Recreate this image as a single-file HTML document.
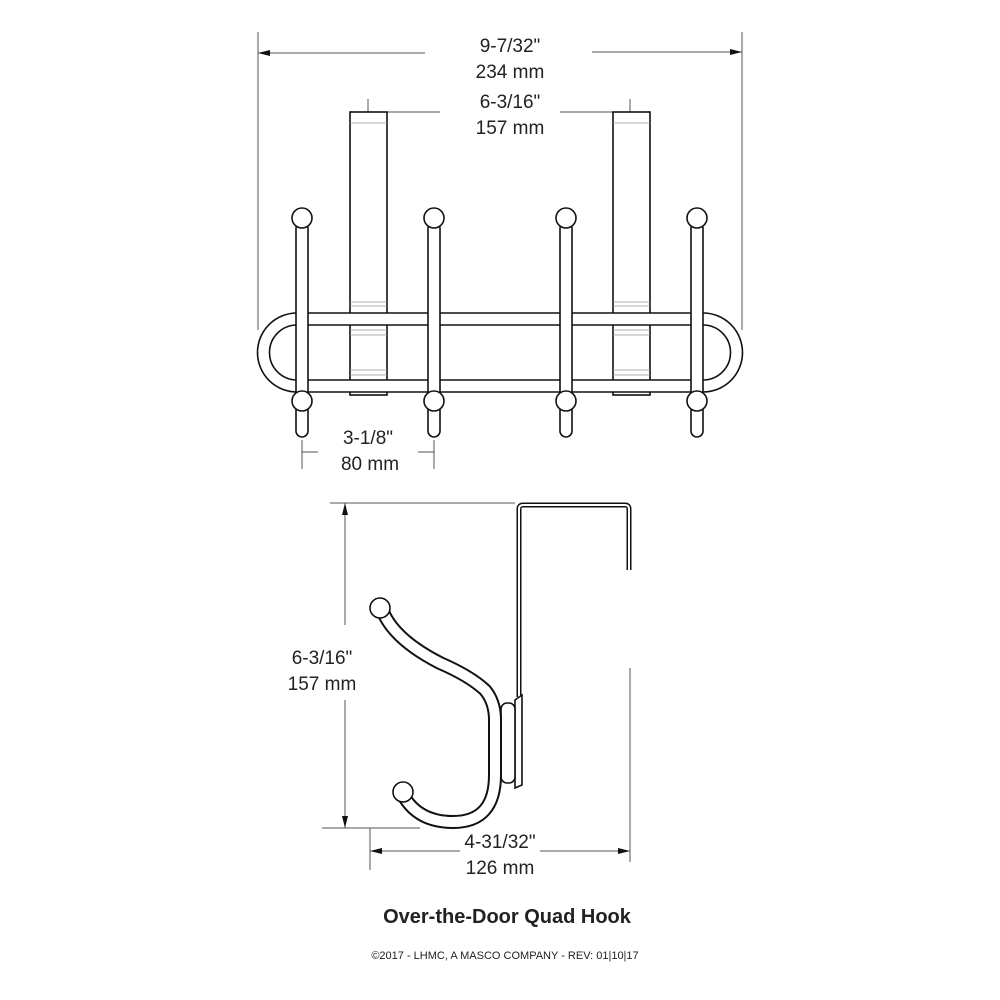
<!DOCTYPE html>
<html><head><style>
html,body{margin:0;padding:0;background:#fff;}
svg{display:block;}
text{font-family:"Liberation Sans",Arial,sans-serif;fill:#222;}
</style></head><body>
<svg width="1000" height="1000" viewBox="0 0 1000 1000" xmlns="http://www.w3.org/2000/svg">
<defs>
<marker id="a" viewBox="0 0 12 6" refX="12" refY="3" markerWidth="14" markerHeight="6" markerUnits="userSpaceOnUse" orient="auto-start-reverse"><path d="M0,0 L12,3 L0,6 z" fill="#111"/></marker>
</defs>
<g stroke="#555" stroke-width="1" fill="none">
<line x1="258" y1="32" x2="258" y2="330"/>
<line x1="742" y1="32" x2="742" y2="330"/>
<line x1="258" y1="53" x2="425" y2="53" marker-start="url(#a)"/>
<line x1="592" y1="52" x2="742" y2="52" marker-end="url(#a)"/>
<line x1="368" y1="99" x2="368" y2="125"/>
<line x1="630" y1="99" x2="630" y2="125"/>
<line x1="368" y1="112" x2="440" y2="112"/>
<line x1="560" y1="112" x2="630" y2="112"/>
<line x1="302" y1="440" x2="302" y2="469"/>
<line x1="434" y1="440" x2="434" y2="469"/>
<line x1="302" y1="452" x2="318" y2="452"/>
<line x1="418" y1="452" x2="434" y2="452"/>
<line x1="330" y1="503" x2="515" y2="503"/>
<line x1="322" y1="828" x2="420" y2="828"/>
<line x1="345" y1="503" x2="345" y2="625" marker-start="url(#a)"/>
<line x1="345" y1="700" x2="345" y2="828" marker-end="url(#a)"/>
<line x1="370" y1="828" x2="370" y2="870"/>
<line x1="630" y1="668" x2="630" y2="862"/>
<line x1="370" y1="851" x2="460" y2="851" marker-start="url(#a)"/>
<line x1="540" y1="851" x2="630" y2="851" marker-end="url(#a)"/>
</g>
<g stroke="#111" stroke-width="1.6" fill="#fff">
<rect x="350" y="112" width="37" height="283"/>
<rect x="613" y="112" width="37" height="283"/>
<g stroke="#999" stroke-width="0.8">
<line x1="350" y1="123" x2="387" y2="123"/><line x1="613" y1="123" x2="650" y2="123"/>
<line x1="350" y1="302" x2="387" y2="302"/><line x1="350" y1="306" x2="387" y2="306"/>
<line x1="613" y1="302" x2="650" y2="302"/><line x1="613" y1="306" x2="650" y2="306"/>
<line x1="350" y1="330" x2="387" y2="330"/><line x1="350" y1="335" x2="387" y2="335"/>
<line x1="613" y1="330" x2="650" y2="330"/><line x1="613" y1="335" x2="650" y2="335"/>
<line x1="350" y1="370" x2="387" y2="370"/><line x1="350" y1="375" x2="387" y2="375"/>
<line x1="613" y1="370" x2="650" y2="370"/><line x1="613" y1="375" x2="650" y2="375"/>
</g>
<path fill-rule="evenodd" fill="#fff" d="M297,313 L703,313 A39.5,39.5 0 0 1 703,392 L297,392 A39.5,39.5 0 0 1 297,313 Z M297,325 L703,325 A27.5,27.5 0 0 1 703,380 L297,380 A27.5,27.5 0 0 1 297,325 Z"/>
<g>
<rect x="296" y="222" width="12" height="215" rx="6"/>
<rect x="428" y="222" width="12" height="215" rx="6"/>
<rect x="560" y="222" width="12" height="215" rx="6"/>
<rect x="691" y="222" width="12" height="215" rx="6"/>
<circle cx="302" cy="218" r="10"/><circle cx="434" cy="218" r="10"/><circle cx="566" cy="218" r="10"/><circle cx="697" cy="218" r="10"/>
<circle cx="302" cy="401" r="10"/><circle cx="434" cy="401" r="10"/><circle cx="566" cy="401" r="10"/><circle cx="697" cy="401" r="10"/>
</g>
<path d="M519,697 L519,509 Q519,505 523,505 L625,505 Q629,505 629,509 L629,570" fill="none" stroke-width="5" stroke="#111"/>
<path d="M519,697 L519,509 Q519,505 523,505 L625,505 Q629,505 629,509 L629,570" fill="none" stroke-width="2" stroke="#fff"/>
<path d="M515,700 L522,695 L522,785 L515,788 Z"/>
<rect x="501" y="703" width="14" height="80" rx="6"/>
<path d="M383,612 Q395,640 440,663 Q470,676 485,690 Q495,702 495,720 L495,775 Q495,822 453,822 Q418,822 403,795" fill="none" stroke-width="14"/>
<path d="M383,612 Q395,640 440,663 Q470,676 485,690 Q495,702 495,720 L495,775 Q495,822 453,822 Q418,822 403,795" fill="none" stroke-width="10" stroke="#fff"/>
<circle cx="380" cy="608" r="10"/>
<circle cx="403" cy="792" r="10"/>
</g>
<g font-size="19" text-anchor="middle">
<text x="510" y="52">9-7/32"</text>
<text x="510" y="78">234 mm</text>
<text x="510" y="108">6-3/16"</text>
<text x="510" y="134">157 mm</text>
<text x="368" y="444">3-1/8"</text>
<text x="370" y="470">80 mm</text>
<text x="322" y="664">6-3/16"</text>
<text x="322" y="690">157 mm</text>
<text x="500" y="848">4-31/32"</text>
<text x="500" y="874">126 mm</text>
</g>
<text x="507" y="923" font-size="20" font-weight="bold" text-anchor="middle">Over-the-Door Quad Hook</text>
<text x="505" y="959" font-size="11" text-anchor="middle">©2017 - LHMC, A MASCO COMPANY - REV: 01|10|17</text>
</svg>
</body></html>
